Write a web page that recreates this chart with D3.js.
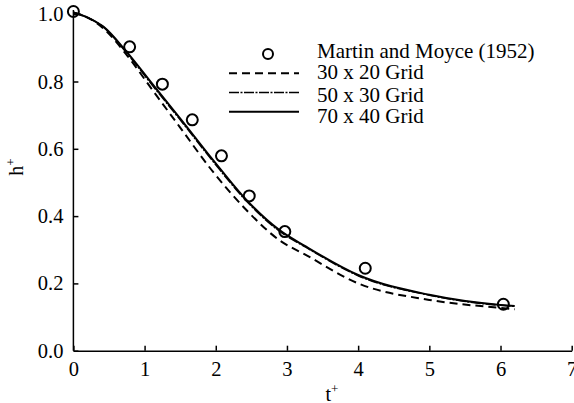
<!DOCTYPE html>
<html><head><meta charset="utf-8">
<script src="https://cdn.jsdelivr.net/npm/d3@7"></script>
<style>body{margin:0;background:#fff}svg{display:block}</style>
</head><body>
<svg id="c" width="574" height="403"></svg>
<script>
const xTicks = [0,1,2,3,4,5,6,7];
const yTicks = [0.0,0.2,0.4,0.6,0.8,1.0];
const expT = [0,0.79,1.25,1.67,2.08,2.47,2.97,4.1,6.04];
const expH = [1.008,0.903,0.792,0.686,0.579,0.46,0.354,0.245,0.138];
const gridT = [0,0.2,0.42,0.745,1.12,1.49,1.96,2.43,2.89,3.27,4,5,6,6.2];
const g30x20 = [1.005,0.99,0.958,0.88,0.772,0.666,0.532,0.418,0.329,0.284,0.200,0.151,0.127,0.123];
const g50x30 = [1.005,0.99,0.962,0.886,0.786,0.689,0.563,0.445,0.356,0.307,0.223,0.165,0.135,0.132];
const g70x40 = [1.005,0.99,0.963,0.889,0.79,0.693,0.567,0.448,0.359,0.309,0.225,0.166,0.136,0.133];
const legendLabels = ["Martin and Moyce (1952)","30 x 20 Grid","50 x 30 Grid","70 x 40 Grid"];

const FONT = "'Liberation Serif', Tinos, 'Times New Roman', 'DejaVu Serif', serif";
const svg = d3.select("#c").attr("font-family",FONT);
const x = d3.scaleLinear().domain([0,7]).range([73.4,571.7]);
const y = d3.scaleLinear().domain([0,1]).range([350.7,14.2]);

// axes
const xa = svg.append("g").attr("transform",`translate(0,${y(0)})`)
  .call(d3.axisBottom(x).tickValues(xTicks).tickFormat(d3.format("d")).tickSizeInner(-5).tickSizeOuter(0).tickPadding(11));
const ya = svg.append("g").attr("transform",`translate(${x(0)},0)`)
  .call(d3.axisLeft(y).tickValues(yTicks).tickFormat(d3.format(".1f")).tickSizeInner(-5).tickSizeOuter(0).tickPadding(10));
[xa,ya].forEach(a=>{
  a.attr("font-family",FONT).attr("font-size",20.5);
  a.selectAll("path.domain").attr("stroke","#000").attr("stroke-width",1.5);
  a.selectAll(".tick line").attr("stroke","#000").attr("stroke-width",1.5);
  a.selectAll("text").attr("fill","#000");
});
ya.select("path.domain").attr("d",`M0,${y(0)}V10`);

// axis titles
const xt = svg.append("text").attr("x",332).attr("y",401).attr("text-anchor","middle")
  .attr("font-family",FONT).attr("font-size",20);
xt.append("tspan").text("t");
xt.append("tspan").attr("dy",-8).attr("font-size",13).text("+");
const yt = svg.append("text").attr("transform","translate(23,167) rotate(-90)").attr("text-anchor","middle")
  .attr("font-family",FONT).attr("font-size",20);
yt.append("tspan").text("h");
yt.append("tspan").attr("dy",-8).attr("font-size",13).text("+");

// lines
const series = [
  {v:g30x20, dash:"8,5", w:2},
  {v:g50x30, dash:"10,1.5,2,1.5", w:1.6},
  {v:g70x40, dash:null, w:2}
];
const line = d3.line().x(d=>x(d[0])).y(d=>y(d[1])).curve(d3.curveMonotoneX);
series.forEach(s=>{
  svg.append("path").datum(gridT.map((t,i)=>[t,s.v[i]]))
    .attr("d",line).attr("fill","none").attr("stroke","#000")
    .attr("stroke-width",s.w).attr("stroke-dasharray",s.dash);
});
// experimental points
svg.append("g").selectAll("circle").data(expT.map((t,i)=>[t,expH[i]])).join("circle")
  .attr("cx",d=>x(d[0])).attr("cy",d=>y(d[1])).attr("r",5.5)
  .attr("fill","none").attr("stroke","#000").attr("stroke-width",2);

// legend
const lg = svg.append("g");
lg.append("circle").attr("cx",268).attr("cy",54).attr("r",5).attr("fill","none").attr("stroke","#000").attr("stroke-width",2);
const markRows = [54,73.3,92.5,111.7];
const textRows = [57.5,79,101.5,123.3];
series.forEach((s,i)=>{
  lg.append("line").attr("x1",229).attr("x2",299).attr("y1",markRows[i+1]).attr("y2",markRows[i+1])
    .attr("stroke","#000").attr("stroke-width",s.w).attr("stroke-dasharray",s.dash);
});
legendLabels.forEach((l,i)=>{
  lg.append("text").attr("x",317).attr("y",textRows[i]).attr("font-family",FONT).attr("font-size",21).text(l);
});
</script>
</body></html>
